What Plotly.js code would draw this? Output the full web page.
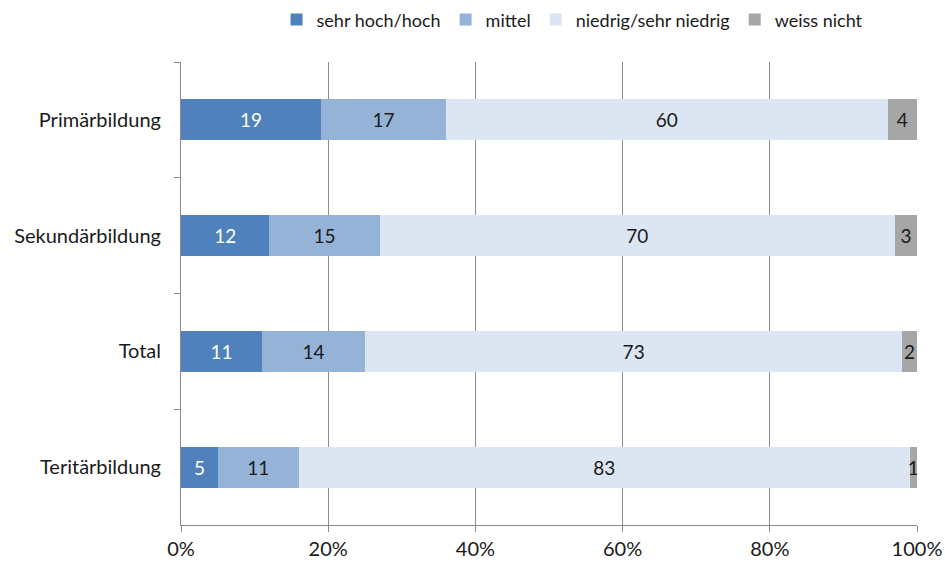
<!DOCTYPE html>
<html><head><meta charset="utf-8">
<script src="https://cdn.plot.ly/plotly-3.0.1.min.js"></script>
<style>html,body{margin:0;padding:0;background:#fff}#chart{width:945px;height:568px}</style>
</head><body><div id="chart"></div>
<script>
const categories = ["Primärbildung", "Sekundärbildung", "Total", "Teritärbildung"];
const seriesNames = ["sehr hoch/hoch", "mittel", "niedrig/sehr niedrig", "weiss nicht"];
const sehrHochHoch = [19, 12, 11, 5];
const mittel = [17, 15, 14, 11];
const niedrig = [60, 70, 73, 83];
const weissNicht = [4, 3, 2, 1];
const colors = ["#4F81BD", "#95B3D7", "#DCE6F2", "#A6A6A6"];
const textColors = ["#ffffff", "#1a1a1a", "#1a1a1a", "#1a1a1a"];
const tickVals = [0, 20, 40, 60, 80, 100];

const values = [sehrHochHoch, mittel, niedrig, weissNicht];
const font = "Lato, 'Open Sans', sans-serif";
const traces = values.map((v, i) => ({
  type: "bar", orientation: "h",
  name: seriesNames[i], x: v, y: categories,
  marker: {color: colors[i]},
  text: v.map(String), textposition: "inside", insidetextanchor: "middle",
  constraintext: "none",
  textfont: {color: textColors[i], size: 19, family: font},
  hoverinfo: "none"
}));

const layout = {
  width: 945, height: 568,
  margin: {l: 181, r: 28, t: 62, b: 43, autoexpand: false},
  barmode: "stack", bargap: 0.645,
  font: {family: font, size: 19, color: "#1a1a1a"},
  paper_bgcolor: "#fff", plot_bgcolor: "#fff",
  showlegend: true,
  legend: {orientation: "h", x: 0.532, xanchor: "center", y: 1.091, yanchor: "middle",
           font: {size: 18, color: "#1a1a1a"}, itemwidth: 30, traceorder: "normal"},
  xaxis: {range: [0, 100], tickvals: tickVals, ticktext: tickVals.map(t => t + "%"),
          showgrid: true, gridcolor: "#8a8a8a", gridwidth: 1,
          showline: true, linecolor: "#8a8a8a", ticks: "outside", ticklen: 6, tickcolor: "#8a8a8a",
          zeroline: false, fixedrange: true, tickfont: {size: 20}},
  yaxis: {type: "category", categoryorder: "array", categoryarray: categories, autorange: "reversed",
          showline: true, linecolor: "#8a8a8a", ticks: "outside", ticklen: 6, tickcolor: "#8a8a8a",
          tickson: "boundaries", showgrid: false, ticklabelstandoff: 15, tickfont: {size: 20}}
};
Plotly.newPlot("chart", traces, layout, {staticPlot: true, displayModeBar: false});
</script></body></html>
